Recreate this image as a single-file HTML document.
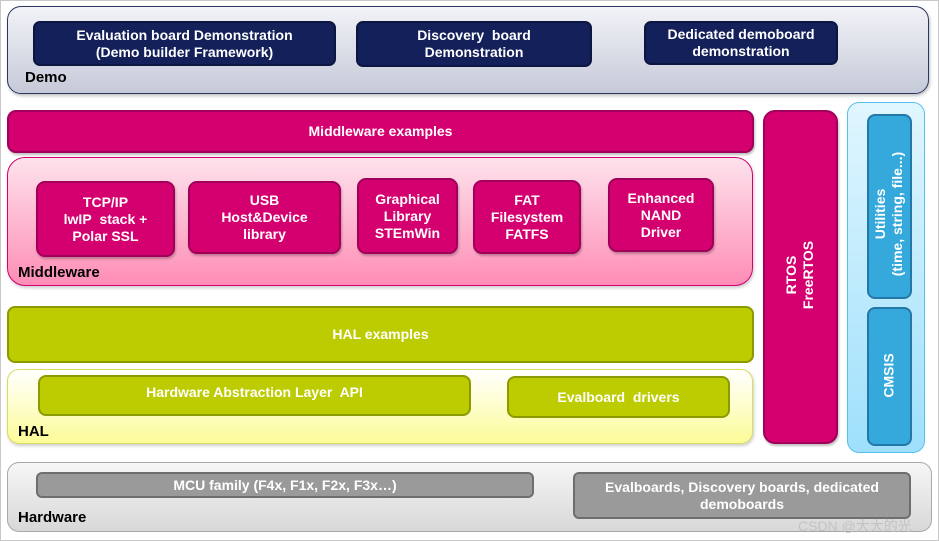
<!DOCTYPE html>
<html><head><meta charset="utf-8"><style>
body{margin:0;width:939px;height:541px;background:#fff;position:relative;overflow:hidden;font-family:"Liberation Sans",Arial,sans-serif;font-weight:bold;}
.frame{position:absolute;left:0;top:0;width:937px;height:539px;border:1px solid #c8c8c8;}
.a{position:absolute;box-sizing:border-box;}
.c{display:flex;align-items:center;justify-content:center;text-align:center;color:#fff;font-size:14px;line-height:17px;}
.lbl{position:absolute;color:#000;font-size:15px;}
.demo{background:#13205a;border:2px solid #0c1640;border-radius:7px;}
.mag{background:#d4006f;border:2px solid #a0005a;border-radius:9px;box-shadow:1px 2px 2px rgba(0,0,0,.25);}
.grn{background:#bccc00;border:2px solid #8a9a00;border-radius:8px;}
.gry{background:#9a9a9a;border:2px solid #6e6e6e;border-radius:6px;}
.blu{background:#35a8dc;border:2px solid #2478a8;border-radius:8px;}
.rot{position:absolute;white-space:nowrap;transform:rotate(-90deg);color:#fff;font-size:14px;line-height:17px;text-align:center;}
</style></head><body>
<div class="frame"></div>

<div class="a" style="left:7px;top:6px;width:922px;height:88px;border:1px solid #2a3560;border-radius:14px;background:linear-gradient(#f2f3f8,#c6cad8);box-shadow:1px 2px 3px rgba(0,0,0,.25)"></div>
<div class="a demo c" style="left:33px;top:21px;width:303px;height:45px">Evaluation board Demonstration<br>(Demo builder Framework)</div>
<div class="a demo c" style="left:356px;top:21px;width:236px;height:46px">Discovery&nbsp; board<br>Demonstration</div>
<div class="a demo c" style="left:644px;top:21px;width:194px;height:44px">Dedicated demoboard<br>demonstration</div>
<div class="lbl" style="left:25px;top:69px">Demo</div>

<div class="a mag c" style="left:7px;top:110px;width:747px;height:43px">Middleware examples</div>
<div class="a" style="left:7px;top:157px;width:746px;height:129px;border:1px solid #d4006f;border-radius:18px;background:linear-gradient(#fde2ec,#ff8db6);box-shadow:1px 2px 3px rgba(0,0,0,.2)"></div>
<div class="a mag c" style="left:36px;top:181px;width:139px;height:76px">TCP/IP<br>lwIP&nbsp; stack +<br>Polar SSL</div>
<div class="a mag c" style="left:188px;top:181px;width:153px;height:73px">USB<br>Host&amp;Device<br>library</div>
<div class="a mag c" style="left:357px;top:178px;width:101px;height:76px">Graphical<br>Library<br>STEmWin</div>
<div class="a mag c" style="left:473px;top:180px;width:108px;height:74px">FAT<br>Filesystem<br>FATFS</div>
<div class="a mag c" style="left:608px;top:178px;width:106px;height:74px">Enhanced<br>NAND<br>Driver</div>
<div class="lbl" style="left:18px;top:264px">Middleware</div>

<div class="a grn c" style="left:7px;top:306px;width:747px;height:57px">HAL examples</div>
<div class="a" style="left:7px;top:369px;width:746px;height:75px;border:1px solid #d8dc60;border-radius:12px;background:linear-gradient(#ffffff,#fcfc98);box-shadow:1px 2px 3px rgba(0,0,0,.2)"></div>
<div class="a grn c" style="left:38px;top:375px;width:433px;height:41px;padding-bottom:6px">Hardware Abstraction Layer&nbsp; API</div>
<div class="a grn c" style="left:507px;top:376px;width:223px;height:42px">Evalboard&nbsp; drivers</div>
<div class="lbl" style="left:18px;top:423px">HAL</div>

<div class="a mag" style="left:763px;top:110px;width:75px;height:334px;border-radius:12px"></div>
<div class="rot" style="left:740px;top:258px;width:120px">RTOS<br>FreeRTOS</div>

<div class="a" style="left:847px;top:102px;width:78px;height:351px;border:1px solid #58c0ec;border-radius:12px;background:linear-gradient(#e0f6fe,#9fe0fc)"></div>
<div class="a blu" style="left:867px;top:114px;width:45px;height:185px"></div>
<div class="rot" style="left:799px;top:197px;width:180px">Utilities<br>(time, string, file...)</div>
<div class="a blu" style="left:867px;top:307px;width:45px;height:139px"></div>
<div class="rot" style="left:849px;top:367px;width:80px">CMSIS</div>

<div class="a" style="left:7px;top:462px;width:925px;height:70px;border:1px solid #a8a8a8;border-radius:12px;background:linear-gradient(#f6f6f6,#d8d8d8)"></div>
<div class="a gry c" style="left:36px;top:472px;width:498px;height:26px">MCU family (F4x, F1x, F2x, F3x…)</div>
<div class="a gry c" style="left:573px;top:472px;width:338px;height:47px">Evalboards, Discovery boards, dedicated<br>demoboards</div>
<div class="lbl" style="left:18px;top:509px">Hardware</div>
<div style="position:absolute;left:798px;top:516px;font-family:'Liberation Sans','Noto Sans CJK SC',sans-serif;font-weight:normal;font-size:14px;color:rgba(190,190,190,.85)">CSDN @大大的光</div>
</body></html>
